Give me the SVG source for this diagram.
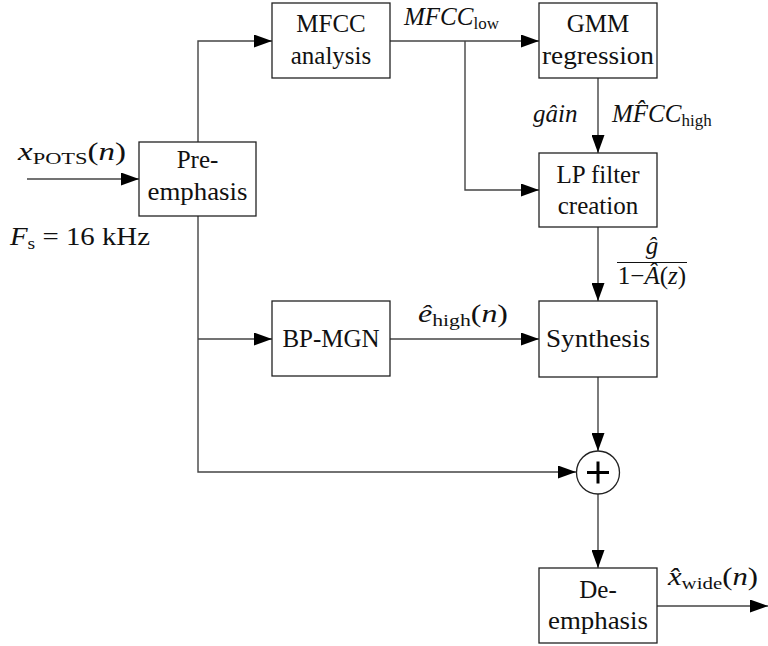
<svg xmlns="http://www.w3.org/2000/svg" width="768" height="646" viewBox="0 0 768 646">
<style>
.box{fill:#fff;stroke:#222;stroke-width:1.3}
.ln{fill:none;stroke:#444;stroke-width:1.4}
.t{font-family:"Liberation Serif","Times New Roman",serif;font-size:25px;fill:#111;text-anchor:middle}
.m{font-family:"Liberation Serif","Times New Roman",serif;font-size:25px;fill:#111}
.i{font-style:italic}
</style>
<defs>
<marker id="ar" markerUnits="userSpaceOnUse" markerWidth="19" markerHeight="13" refX="18" refY="6.5" orient="auto">
<path d="M0,0 L18,6.5 L0,13 z" fill="#000"/>
</marker>
</defs>
<rect width="768" height="646" fill="#fff"/>
<g id="connectors">
<path class="ln" d="M27,179 H139" marker-end="url(#ar)"/>
<path class="ln" d="M198,142 V41 H272" marker-end="url(#ar)"/>
<path class="ln" d="M198,216 V472 H576" marker-end="url(#ar)"/>
<path class="ln" d="M198,339 H272" marker-end="url(#ar)"/>
<path class="ln" d="M390,41 H539" marker-end="url(#ar)"/>
<path class="ln" d="M465,41 V190 H539" marker-end="url(#ar)"/>
<path class="ln" d="M598,78 V153" marker-end="url(#ar)"/>
<path class="ln" d="M598,227 V301" marker-end="url(#ar)"/>
<path class="ln" d="M390,339 H539" marker-end="url(#ar)"/>
<path class="ln" d="M598,377 V451" marker-end="url(#ar)"/>
<path class="ln" d="M598,494 V568" marker-end="url(#ar)"/>
<path class="ln" d="M657,606 H768" marker-end="url(#ar)"/>
</g>
<g id="preemphasis">
<rect class="box" x="139" y="142" width="117" height="74"/>
<text class="t" x="197.5" y="168">Pre-</text>
<text class="t" x="197.5" y="200" textLength="100" lengthAdjust="spacingAndGlyphs">emphasis</text>
</g>
<g id="mfcc">
<rect class="box" x="272" y="3" width="118" height="75"/>
<text class="t" x="331" y="32">MFCC</text>
<text class="t" x="331" y="64">analysis</text>
</g>
<g id="gmm">
<rect class="box" x="539" y="3" width="118" height="75"/>
<text class="t" x="598" y="32">GMM</text>
<text class="t" x="598" y="64" textLength="112" lengthAdjust="spacingAndGlyphs">regression</text>
</g>
<g id="lpfilter">
<rect class="box" x="539" y="153" width="118" height="74"/>
<text class="t" x="598" y="183">LP filter</text>
<text class="t" x="598" y="214">creation</text>
</g>
<g id="bpmgn">
<rect class="box" x="272" y="301" width="118" height="75"/>
<text class="t" x="331" y="347">BP-MGN</text>
</g>
<g id="synthesis">
<rect class="box" x="539" y="301" width="118" height="76"/>
<text class="t" x="598" y="347" textLength="104" lengthAdjust="spacingAndGlyphs">Synthesis</text>
</g>
<g id="adder">
<circle cx="598" cy="472.5" r="21.5" fill="#fff" stroke="#222" stroke-width="1.3"/>
<path d="M587,472.5 H609 M598,461.5 V483.5" stroke="#000" stroke-width="3" fill="none"/>
</g>
<g id="deemphasis">
<rect class="box" x="539" y="568" width="118" height="75"/>
<text class="t" x="598" y="598">De-</text>
<text class="t" x="598" y="629" textLength="100" lengthAdjust="spacingAndGlyphs">emphasis</text>
</g>
<g id="labels">
<text class="m" x="18" y="160" textLength="108" lengthAdjust="spacingAndGlyphs"><tspan class="i">x</tspan><tspan font-size="17" dy="4">POTS</tspan><tspan dy="-4">(</tspan><tspan class="i">n</tspan>)</text>
<text class="m" x="10" y="245" textLength="140" lengthAdjust="spacingAndGlyphs"><tspan class="i">F</tspan><tspan font-size="17" dy="4">s</tspan><tspan dy="-4"> = 16 kHz</tspan></text>
<text class="m" x="404" y="25"><tspan class="i">MFCC</tspan><tspan font-size="17" dy="4">low</tspan></text>
<text class="m i" x="533" y="122">gâin</text>
<text class="m" x="612" y="122"><tspan class="i">MF̂CC</tspan><tspan font-size="17" dy="4">high</tspan></text>
<text class="m" x="652" y="254" font-size="16" text-anchor="middle" font-style="italic">ĝ</text>
<path d="M617,262.5 H687" stroke="#111" stroke-width="1"/>
<text class="m" x="652" y="284" font-size="17" text-anchor="middle">1−<tspan class="i">Â</tspan>(<tspan class="i">z</tspan>)</text>
<text class="m" x="418" y="322" textLength="90" lengthAdjust="spacingAndGlyphs"><tspan class="i">ê</tspan><tspan font-size="17" dy="4">high</tspan><tspan dy="-4">(</tspan><tspan class="i">n</tspan>)</text>
<text class="m" x="668" y="585" textLength="90" lengthAdjust="spacingAndGlyphs"><tspan class="i">x̂</tspan><tspan font-size="17" dy="4">wide</tspan><tspan dy="-4">(</tspan><tspan class="i">n</tspan>)</text>
</g>
</svg>
